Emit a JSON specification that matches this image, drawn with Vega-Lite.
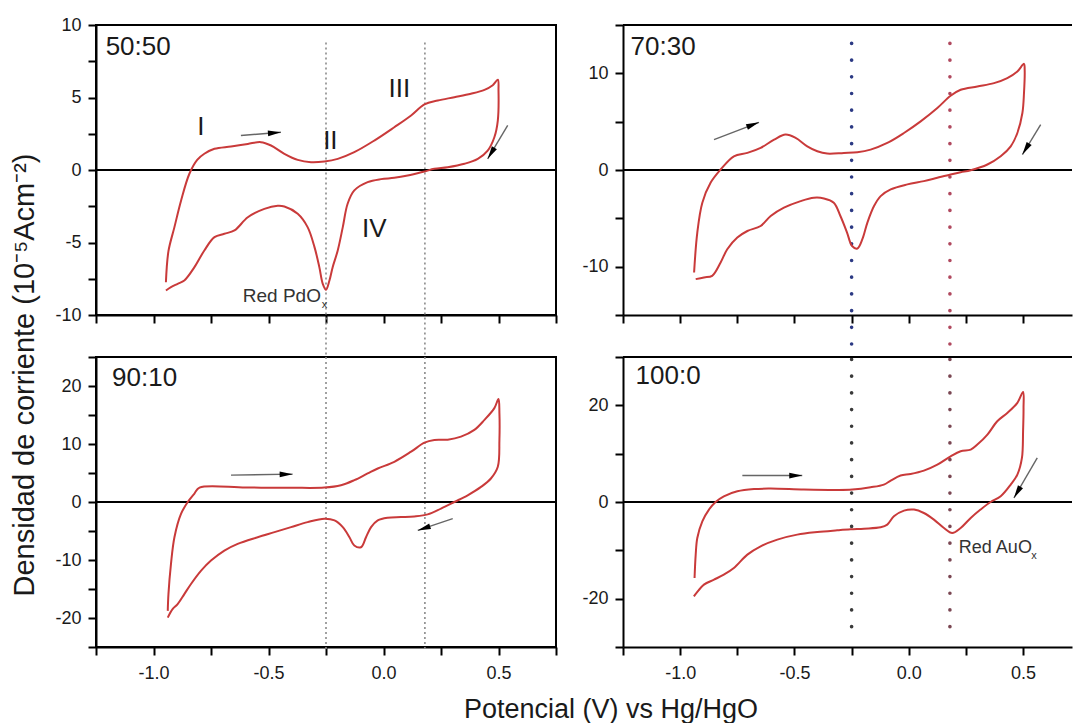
{
 "$schema": "https://vega.github.io/schema/vega-lite/v6.json",
 "padding": {"left": 10, "top": 15, "right": 0, "bottom": 0},
 "background": "white",
 "config": {
  "font": "Liberation Sans",
  "view": {"stroke": "black", "strokeWidth": 2},
  "axis": {"grid": false, "domainColor": "black", "domainWidth": 2, "tickColor": "black", "tickWidth": 2, "tickSize": 8, "labelFont": "Liberation Sans", "labelFontSize": 18, "labelColor": "#1a1a1a", "labelPadding": 7, "labelOverlap": false, "labelFlush": false},
  "axisX": {"labelPadding": 9},
  "text": {"font": "Liberation Sans"}
 },
 "title": {"text": "Potencial (V) vs Hg/HgO", "orient": "bottom", "anchor": "middle", "fontSize": 27, "font": "Liberation Sans", "fontWeight": "normal", "color": "#1a1a1a", "offset": 14, "dx": 69},
 "datasets": {
  "cv": [
   {"p":"a","o":1,"v":-0.946,"i":-7.74},{"p":"a","o":2,"v":-0.935,"i":-5.6},{"p":"a","o":3,"v":-0.909,"i":-3.94},{"p":"a","o":4,"v":-0.88,"i":-2.1},{"p":"a","o":5,"v":-0.844,"i":-0.26},{"p":"a","o":6,"v":-0.81,"i":0.7},{"p":"a","o":7,"v":-0.779,"i":1.12},{"p":"a","o":8,"v":-0.735,"i":1.46},{"p":"a","o":9,"v":-0.663,"i":1.62},{"p":"a","o":10,"v":-0.59,"i":1.8},{"p":"a","o":11,"v":-0.533,"i":1.92},{"p":"a","o":12,"v":-0.489,"i":1.69},{"p":"a","o":13,"v":-0.431,"i":1.12},{"p":"a","o":14,"v":-0.373,"i":0.7},{"p":"a","o":15,"v":-0.315,"i":0.54},{"p":"a","o":16,"v":-0.257,"i":0.59},{"p":"a","o":17,"v":-0.199,"i":0.77},{"p":"a","o":18,"v":-0.127,"i":1.23},{"p":"a","o":19,"v":-0.04,"i":2.03},{"p":"a","o":20,"v":0.047,"i":2.95},{"p":"a","o":21,"v":0.12,"i":3.76},{"p":"a","o":22,"v":0.178,"i":4.52},{"p":"a","o":23,"v":0.236,"i":4.79},{"p":"a","o":24,"v":0.308,"i":5.02},{"p":"a","o":25,"v":0.38,"i":5.26},{"p":"a","o":26,"v":0.439,"i":5.53},{"p":"a","o":27,"v":0.475,"i":5.85},{"p":"a","o":28,"v":0.497,"i":6.22},
   {"p":"a","o":29,"v":0.5,"i":5.48},{"p":"a","o":30,"v":0.497,"i":3.41},{"p":"a","o":31,"v":0.482,"i":2.26},{"p":"a","o":32,"v":0.453,"i":1.34},{"p":"a","o":33,"v":0.41,"i":0.77},{"p":"a","o":34,"v":0.352,"i":0.43},{"p":"a","o":35,"v":0.279,"i":0.19},{"p":"a","o":36,"v":0.221,"i":0.08},{"p":"a","o":37,"v":0.178,"i":-0.1},{"p":"a","o":38,"v":0.105,"i":-0.38},{"p":"a","o":39,"v":0.047,"i":-0.54},{"p":"a","o":40,"v":-0.011,"i":-0.63},{"p":"a","o":41,"v":-0.069,"i":-0.84},{"p":"a","o":42,"v":-0.127,"i":-1.41},{"p":"a","o":43,"v":-0.156,"i":-2.33},{"p":"a","o":44,"v":-0.177,"i":-3.94},{"p":"a","o":45,"v":-0.199,"i":-5.55},{"p":"a","o":46,"v":-0.221,"i":-6.7},{"p":"a","o":47,"v":-0.235,"i":-7.62},{"p":"a","o":48,"v":-0.25,"i":-8.26},{"p":"a","o":49,"v":-0.264,"i":-7.85},{"p":"a","o":50,"v":-0.279,"i":-6.7},{"p":"a","o":51,"v":-0.3,"i":-5.32},{"p":"a","o":52,"v":-0.33,"i":-3.94},{"p":"a","o":53,"v":-0.373,"i":-3.02},{"p":"a","o":54,"v":-0.431,"i":-2.52},{"p":"a","o":55,"v":-0.46,"i":-2.47},{"p":"a","o":56,"v":-0.518,"i":-2.68},{"p":"a","o":57,"v":-0.59,"i":-3.26},{"p":"a","o":58,"v":-0.648,"i":-4.17},{"p":"a","o":59,"v":-0.692,"i":-4.4},{"p":"a","o":60,"v":-0.735,"i":-4.63},{"p":"a","o":61,"v":-0.779,"i":-5.55},{"p":"a","o":62,"v":-0.822,"i":-6.7},{"p":"a","o":63,"v":-0.866,"i":-7.62},{"p":"a","o":64,"v":-0.895,"i":-7.85},{"p":"a","o":65,"v":-0.924,"i":-8.08},{"p":"a","o":66,"v":-0.946,"i":-8.31},
   {"p":"b","o":1,"v":-0.939,"i":-10.6},{"p":"b","o":2,"v":-0.925,"i":-6.47},{"p":"b","o":3,"v":-0.903,"i":-3.38},{"p":"b","o":4,"v":-0.867,"i":-1.32},{"p":"b","o":5,"v":-0.823,"i":0.05},{"p":"b","o":6,"v":-0.765,"i":1.42},{"p":"b","o":7,"v":-0.706,"i":1.77},{"p":"b","o":8,"v":-0.648,"i":2.29},{"p":"b","o":9,"v":-0.589,"i":3.14},{"p":"b","o":10,"v":-0.539,"i":3.66},{"p":"b","o":11,"v":-0.495,"i":3.32},{"p":"b","o":12,"v":-0.444,"i":2.45},{"p":"b","o":13,"v":-0.4,"i":1.94},{"p":"b","o":14,"v":-0.357,"i":1.7},{"p":"b","o":15,"v":-0.284,"i":1.77},{"p":"b","o":16,"v":-0.225,"i":1.84},{"p":"b","o":17,"v":-0.167,"i":2.11},{"p":"b","o":18,"v":-0.094,"i":2.8},{"p":"b","o":19,"v":-0.021,"i":3.83},{"p":"b","o":20,"v":0.052,"i":5.03},{"p":"b","o":21,"v":0.125,"i":6.41},{"p":"b","o":22,"v":0.183,"i":7.68},{"p":"b","o":23,"v":0.227,"i":8.3},{"p":"b","o":24,"v":0.3,"i":8.64},{"p":"b","o":25,"v":0.373,"i":8.99},{"p":"b","o":26,"v":0.431,"i":9.51},{"p":"b","o":27,"v":0.475,"i":10.19},{"p":"b","o":28,"v":0.504,"i":10.98},
   {"p":"b","o":29,"v":0.507,"i":10.36},{"p":"b","o":30,"v":0.504,"i":7.96},{"p":"b","o":31,"v":0.497,"i":5.9},{"p":"b","o":32,"v":0.475,"i":3.83},{"p":"b","o":33,"v":0.446,"i":2.45},{"p":"b","o":34,"v":0.402,"i":1.42},{"p":"b","o":35,"v":0.344,"i":0.57},{"p":"b","o":36,"v":0.271,"i":-0.02},{"p":"b","o":37,"v":0.227,"i":-0.23},{"p":"b","o":38,"v":0.183,"i":-0.46},{"p":"b","o":39,"v":0.125,"i":-0.8},{"p":"b","o":40,"v":0.066,"i":-1.15},{"p":"b","o":41,"v":-0.006,"i":-1.49},{"p":"b","o":42,"v":-0.079,"i":-2.01},{"p":"b","o":43,"v":-0.123,"i":-2.7},{"p":"b","o":44,"v":-0.152,"i":-3.73},{"p":"b","o":45,"v":-0.181,"i":-5.44},{"p":"b","o":46,"v":-0.203,"i":-7.16},{"p":"b","o":47,"v":-0.225,"i":-8.12},{"p":"b","o":48,"v":-0.248,"i":-7.86},{"p":"b","o":49,"v":-0.27,"i":-6.47},{"p":"b","o":50,"v":-0.299,"i":-4.76},{"p":"b","o":51,"v":-0.328,"i":-3.38},{"p":"b","o":52,"v":-0.371,"i":-2.94},{"p":"b","o":53,"v":-0.415,"i":-2.87},{"p":"b","o":54,"v":-0.473,"i":-3.22},{"p":"b","o":55,"v":-0.546,"i":-3.9},{"p":"b","o":56,"v":-0.604,"i":-4.76},{"p":"b","o":57,"v":-0.648,"i":-5.79},{"p":"b","o":58,"v":-0.706,"i":-6.31},{"p":"b","o":59,"v":-0.75,"i":-6.99},{"p":"b","o":60,"v":-0.794,"i":-8.2},{"p":"b","o":61,"v":-0.823,"i":-9.57},{"p":"b","o":62,"v":-0.86,"i":-10.95},{"p":"b","o":63,"v":-0.896,"i":-11.11},{"p":"b","o":64,"v":-0.932,"i":-11.29},
   {"p":"c","o":1,"v":-0.938,"i":-18.77},{"p":"c","o":2,"v":-0.935,"i":-15.88},{"p":"c","o":3,"v":-0.924,"i":-10.68},{"p":"c","o":4,"v":-0.909,"i":-6.07},{"p":"c","o":5,"v":-0.88,"i":-2.01},{"p":"c","o":6,"v":-0.851,"i":0},{"p":"c","o":7,"v":-0.822,"i":1.46},{"p":"c","o":8,"v":-0.8,"i":2.49},{"p":"c","o":9,"v":-0.6,"i":2.49},{"p":"c","o":10,"v":-0.4,"i":2.45},{"p":"c","o":11,"v":-0.257,"i":2.49},{"p":"c","o":12,"v":-0.185,"i":2.89},{"p":"c","o":13,"v":-0.127,"i":3.76},{"p":"c","o":14,"v":-0.069,"i":4.92},{"p":"c","o":15,"v":-0.025,"i":5.78},{"p":"c","o":16,"v":0.047,"i":6.93},{"p":"c","o":17,"v":0.12,"i":8.67},{"p":"c","o":18,"v":0.178,"i":10.23},{"p":"c","o":19,"v":0.221,"i":10.69},{"p":"c","o":20,"v":0.279,"i":10.75},{"p":"c","o":21,"v":0.337,"i":11.27},{"p":"c","o":22,"v":0.395,"i":12.43},{"p":"c","o":23,"v":0.439,"i":14.16},{"p":"c","o":24,"v":0.482,"i":16.19},{"p":"c","o":25,"v":0.5,"i":17.75},
   {"p":"c","o":26,"v":0.504,"i":15.32},{"p":"c","o":27,"v":0.504,"i":10.69},{"p":"c","o":28,"v":0.497,"i":6.07},{"p":"c","o":29,"v":0.467,"i":4.05},{"p":"c","o":30,"v":0.424,"i":2.6},{"p":"c","o":31,"v":0.366,"i":1.16},{"p":"c","o":32,"v":0.308,"i":0},{"p":"c","o":33,"v":0.25,"i":-1.14},{"p":"c","o":34,"v":0.192,"i":-2.13},{"p":"c","o":35,"v":0.134,"i":-2.48},{"p":"c","o":36,"v":0.076,"i":-2.6},{"p":"c","o":37,"v":0.018,"i":-2.7},{"p":"c","o":38,"v":-0.025,"i":-3.17},{"p":"c","o":39,"v":-0.054,"i":-4.33},{"p":"c","o":40,"v":-0.076,"i":-6.07},{"p":"c","o":41,"v":-0.098,"i":-7.8},{"p":"c","o":42,"v":-0.127,"i":-7.5},{"p":"c","o":43,"v":-0.148,"i":-6.07},{"p":"c","o":44,"v":-0.177,"i":-4.33},{"p":"c","o":45,"v":-0.213,"i":-3.17},{"p":"c","o":46,"v":-0.257,"i":-2.88},{"p":"c","o":47,"v":-0.33,"i":-3.47},{"p":"c","o":48,"v":-0.402,"i":-4.33},{"p":"c","o":49,"v":-0.474,"i":-5.2},{"p":"c","o":50,"v":-0.547,"i":-6.07},{"p":"c","o":51,"v":-0.634,"i":-7.21},{"p":"c","o":52,"v":-0.692,"i":-8.37},{"p":"c","o":53,"v":-0.75,"i":-10.1},{"p":"c","o":54,"v":-0.793,"i":-11.84},{"p":"c","o":55,"v":-0.837,"i":-14.14},{"p":"c","o":56,"v":-0.866,"i":-15.88},{"p":"c","o":57,"v":-0.895,"i":-17.61},{"p":"c","o":58,"v":-0.917,"i":-18.47},{"p":"c","o":59,"v":-0.938,"i":-19.93},
   {"p":"d","o":1,"v":-0.937,"i":-15.73},{"p":"d","o":2,"v":-0.932,"i":-10.89},{"p":"d","o":3,"v":-0.925,"i":-7.45},{"p":"d","o":4,"v":-0.903,"i":-4.0},{"p":"d","o":5,"v":-0.874,"i":-1.57},{"p":"d","o":6,"v":-0.845,"i":0},{"p":"d","o":7,"v":-0.809,"i":1.18},{"p":"d","o":8,"v":-0.75,"i":2.22},{"p":"d","o":9,"v":-0.677,"i":2.69},{"p":"d","o":10,"v":-0.604,"i":2.77},{"p":"d","o":11,"v":-0.459,"i":2.57},{"p":"d","o":12,"v":-0.313,"i":2.48},{"p":"d","o":13,"v":-0.247,"i":2.57},{"p":"d","o":14,"v":-0.167,"i":3.04},{"p":"d","o":15,"v":-0.109,"i":3.6},{"p":"d","o":16,"v":-0.079,"i":4.43},{"p":"d","o":17,"v":-0.036,"i":5.47},{"p":"d","o":18,"v":0.008,"i":5.8},{"p":"d","o":19,"v":0.066,"i":6.5},{"p":"d","o":20,"v":0.125,"i":7.74},{"p":"d","o":21,"v":0.183,"i":9.46},{"p":"d","o":22,"v":0.227,"i":10.5},{"p":"d","o":23,"v":0.271,"i":10.85},{"p":"d","o":24,"v":0.3,"i":11.88},{"p":"d","o":25,"v":0.344,"i":13.95},{"p":"d","o":26,"v":0.387,"i":16.71},{"p":"d","o":27,"v":0.431,"i":18.43},{"p":"d","o":28,"v":0.475,"i":20.5},{"p":"d","o":29,"v":0.5,"i":22.77},
   {"p":"d","o":30,"v":0.502,"i":19.46},{"p":"d","o":31,"v":0.5,"i":14.64},{"p":"d","o":32,"v":0.495,"i":9.11},{"p":"d","o":33,"v":0.475,"i":5.67},{"p":"d","o":34,"v":0.446,"i":3.6},{"p":"d","o":35,"v":0.402,"i":1.18},{"p":"d","o":36,"v":0.358,"i":0},{"p":"d","o":37,"v":0.314,"i":-1.57},{"p":"d","o":38,"v":0.271,"i":-3.31},{"p":"d","o":39,"v":0.227,"i":-5.38},{"p":"d","o":40,"v":0.19,"i":-6.42},{"p":"d","o":41,"v":0.154,"i":-5.38},{"p":"d","o":42,"v":0.11,"i":-3.64},{"p":"d","o":43,"v":0.066,"i":-2.28},{"p":"d","o":44,"v":0.023,"i":-1.57},{"p":"d","o":45,"v":-0.021,"i":-1.78},{"p":"d","o":46,"v":-0.065,"i":-2.96},{"p":"d","o":47,"v":-0.094,"i":-4.68},{"p":"d","o":48,"v":-0.123,"i":-5.24},{"p":"d","o":49,"v":-0.196,"i":-5.51},{"p":"d","o":50,"v":-0.254,"i":-5.65},{"p":"d","o":51,"v":-0.313,"i":-5.86},{"p":"d","o":52,"v":-0.4,"i":-6.21},{"p":"d","o":53,"v":-0.488,"i":-6.75},{"p":"d","o":54,"v":-0.575,"i":-7.78},{"p":"d","o":55,"v":-0.648,"i":-9.17},{"p":"d","o":56,"v":-0.706,"i":-10.89},{"p":"d","o":57,"v":-0.765,"i":-13.66},{"p":"d","o":58,"v":-0.809,"i":-15.03},{"p":"d","o":59,"v":-0.852,"i":-16.07},{"p":"d","o":60,"v":-0.896,"i":-17.1},{"p":"d","o":61,"v":-0.94,"i":-19.52}
  ],
  "rl": [
   {"p":"a","k":"s","v":-1.25,"v2":0.75,"i":0,"i2":0},
   {"p":"a","k":"g","v":-0.25,"v2":-0.25,"i":8.8,"i2":-12.9},
   {"p":"a","k":"g","v":0.18,"v2":0.18,"i":8.8,"i2":-12.9},
   {"p":"c","k":"s","v":-1.25,"v2":0.75,"i":0,"i2":0},
   {"p":"c","k":"g","v":-0.25,"v2":-0.25,"i":25,"i2":-25.5},
   {"p":"c","k":"g","v":0.18,"v2":0.18,"i":25,"i2":-25.5},
   {"p":"b","k":"s","v":-1.25,"v2":0.714,"i":0,"i2":0},
   {"p":"b","k":"s","v":-1.25,"v2":0.714,"i":15,"i2":15},
   {"p":"b","k":"n","v":-0.25,"v2":-0.25,"i":13.1,"i2":-18.7},
   {"p":"b","k":"r","v":0.18,"v2":0.18,"i":13.1,"i2":-18.7},
   {"p":"d","k":"s","v":-1.25,"v2":0.714,"i":0,"i2":0},
   {"p":"d","k":"s","v":-1.25,"v2":0.714,"i":30,"i2":30},
   {"p":"d","k":"k","v":-0.25,"v2":-0.25,"i":29.5,"i2":-28.5},
   {"p":"d","k":"r2","v":0.18,"v2":0.18,"i":29.5,"i2":-28.5}
  ],
  "ar": [
   {"id":"a1","p":"a","v":-0.446,"i":2.6,"v2":-0.62,"i2":2.38},
   {"id":"a2","p":"a","v":0.453,"i":0.77,"v2":0.54,"i2":3.07},
   {"id":"b1","p":"b","v":-0.655,"i":4.93,"v2":-0.852,"i2":3.14},
   {"id":"b2","p":"b","v":0.497,"i":1.6,"v2":0.577,"i2":4.69},
   {"id":"c1","p":"c","v":-0.395,"i":4.8,"v2":-0.663,"i2":4.63},
   {"id":"c2","p":"c","v":0.149,"i":-4.9,"v2":0.301,"i2":-2.88},
   {"id":"d1","p":"d","v":-0.466,"i":5.47,"v2":-0.728,"i2":5.47},
   {"id":"d2","p":"d","v":0.46,"i":0.83,"v2":0.562,"i2":9.11}
  ],
  "tx": [
   {"id":"a0","v":-1.208,"i":8.45,"t":"50:50"},
   {"id":"aI","v":-0.794,"i":2.95,"t":"I"},
   {"id":"aII","v":-0.231,"i":2.03,"t":"II"},
   {"id":"aIII","v":0.069,"i":5.6,"t":"III"},
   {"id":"aIV","v":-0.04,"i":-4.06,"t":"IV"},
   {"id":"aR","v":-0.272,"i":-8.66,"t":"Red PdO"},
   {"id":"ax","v":-0.257,"i":-9.34,"t":"x"},
   {"id":"b0","v":-1.217,"i":12.7,"t":"70:30"},
   {"id":"c0","v":-1.18,"i":21.4,"t":"90:10"},
   {"id":"d0","v":-1.195,"i":26.0,"t":"100:0"},
   {"id":"dR","v":0.219,"i":-9.52,"t":"Red AuO"},
   {"id":"dx","v":0.548,"i":-11.2,"t":"x"}
  ]
 },
 "hconcat": [
  {
   "title": {"text": "Densidad de corriente (10⁻⁵Acm⁻²)", "orient": "left", "anchor": "middle", "fontSize": 29, "font": "Liberation Sans", "fontWeight": "normal", "color": "#1a1a1a", "offset": 14, "dx": -26},
   "spacing": 42,
   "bounds": "flush",
   "vconcat": [
    {
     "width": 460, "height": 290,
     "encoding": {
      "x": {"field": "v", "type": "quantitative", "scale": {"domain": [-1.25, 0.75], "nice": false, "zero": false}, "axis": {"values": [-1.25,-1,-0.75,-0.5,-0.25,0,0.25,0.5,0.75], "labels": false, "title": null}},
      "y": {"field": "i", "type": "quantitative", "scale": {"domain": [-10, 10], "nice": false, "zero": false}, "axis": {"values": [-10,-7.5,-5,-2.5,0,2.5,5,7.5,10], "labelExpr": "datum.value % 5 === 0 ? '' + datum.value : ''", "title": null}}
     },
     "layer": [
      {"data": {"name": "rl"}, "transform": [{"filter": "datum.p === 'a' && datum.k === 'g'"}], "mark": {"type": "rule", "color": "#8a8a8a", "strokeWidth": 1.6, "strokeDash": [2, 3]}, "encoding": {"x2": {"field": "v2"}, "y2": {"field": "i2"}}},
      {"data": {"name": "rl"}, "transform": [{"filter": "datum.p === 'a' && datum.k === 's'"}], "mark": {"type": "rule", "color": "black", "strokeWidth": 2}, "encoding": {"x2": {"field": "v2"}, "y2": {"field": "i2"}}},
      {"data": {"name": "cv"}, "transform": [{"filter": "datum.p === 'a'"}], "mark": {"type": "line", "color": "#c93a3a", "strokeWidth": 2, "interpolate": "catmull-rom"}, "encoding": {"order": {"field": "o", "type": "quantitative"}}},
      {"data": {"name": "ar"}, "transform": [{"filter": "datum.p === 'a'"}], "mark": {"type": "rule", "color": "#666666", "strokeWidth": 1.4}, "encoding": {"x2": {"field": "v2"}, "y2": {"field": "i2"}}},
      {"data": {"name": "ar"}, "transform": [{"filter": "datum.id === 'a1'"}], "mark": {"type": "point", "shape": "M0,0L-2,-0.45L-2,0.45Z", "filled": true, "color": "black", "opacity": 1, "size": 169, "angle": -4.7}},
      {"data": {"name": "ar"}, "transform": [{"filter": "datum.id === 'a2'"}], "mark": {"type": "point", "shape": "M0,0L-2,-0.45L-2,0.45Z", "filled": true, "color": "black", "opacity": 1, "size": 169, "angle": 121}},
      {"data": {"name": "tx"}, "transform": [{"filter": {"field": "id", "oneOf": ["a0"]}}], "mark": {"type": "text", "align": "left", "baseline": "middle", "fontSize": 26, "color": "#1a1a1a"}, "encoding": {"text": {"field": "t"}}},
      {"data": {"name": "tx"}, "transform": [{"filter": {"field": "id", "oneOf": ["aI", "aII", "aIII", "aIV"]}}], "mark": {"type": "text", "align": "center", "baseline": "middle", "fontSize": 26, "color": "#1a1a1a"}, "encoding": {"text": {"field": "t"}}},
      {"data": {"name": "tx"}, "transform": [{"filter": {"field": "id", "oneOf": ["aR"]}}], "mark": {"type": "text", "align": "right", "baseline": "middle", "fontSize": 19, "color": "#333333"}, "encoding": {"text": {"field": "t"}}},
      {"data": {"name": "tx"}, "transform": [{"filter": {"field": "id", "oneOf": ["ax"]}}], "mark": {"type": "text", "align": "center", "baseline": "middle", "fontSize": 11, "color": "#333333"}, "encoding": {"text": {"field": "t"}}}
     ]
    },
    {
     "width": 460, "height": 290,
     "encoding": {
      "x": {"field": "v", "type": "quantitative", "scale": {"domain": [-1.25, 0.75], "nice": false, "zero": false}, "axis": {"values": [-1.25,-1,-0.75,-0.5,-0.25,0,0.25,0.5,0.75], "labelExpr": "datum.value === -1 ? '-1.0' : datum.value === -0.5 ? '-0.5' : datum.value === 0 ? '0.0' : datum.value === 0.5 ? '0.5' : ''", "title": null}},
      "y": {"field": "i", "type": "quantitative", "scale": {"domain": [-25, 25], "nice": false, "zero": false}, "axis": {"values": [-25,-20,-15,-10,-5,0,5,10,15,20,25], "labelExpr": "datum.value % 10 === 0 ? '' + datum.value : ''", "title": null}}
     },
     "layer": [
      {"data": {"name": "rl"}, "transform": [{"filter": "datum.p === 'c' && datum.k === 'g'"}], "mark": {"type": "rule", "color": "#8a8a8a", "strokeWidth": 1.6, "strokeDash": [2, 3]}, "encoding": {"x2": {"field": "v2"}, "y2": {"field": "i2"}}},
      {"data": {"name": "rl"}, "transform": [{"filter": "datum.p === 'c' && datum.k === 's'"}], "mark": {"type": "rule", "color": "black", "strokeWidth": 2}, "encoding": {"x2": {"field": "v2"}, "y2": {"field": "i2"}}},
      {"data": {"name": "cv"}, "transform": [{"filter": "datum.p === 'c'"}], "mark": {"type": "line", "color": "#c93a3a", "strokeWidth": 2, "interpolate": "catmull-rom"}, "encoding": {"order": {"field": "o", "type": "quantitative"}}},
      {"data": {"name": "ar"}, "transform": [{"filter": "datum.p === 'c'"}], "mark": {"type": "rule", "color": "#666666", "strokeWidth": 1.4}, "encoding": {"x2": {"field": "v2"}, "y2": {"field": "i2"}}},
      {"data": {"name": "ar"}, "transform": [{"filter": "datum.id === 'c1'"}], "mark": {"type": "point", "shape": "M0,0L-2,-0.45L-2,0.45Z", "filled": true, "color": "black", "opacity": 1, "size": 169, "angle": -1}},
      {"data": {"name": "ar"}, "transform": [{"filter": "datum.id === 'c2'"}], "mark": {"type": "point", "shape": "M0,0L-2,-0.45L-2,0.45Z", "filled": true, "color": "black", "opacity": 1, "size": 169, "angle": 161.5}},
      {"data": {"name": "tx"}, "transform": [{"filter": {"field": "id", "oneOf": ["c0"]}}], "mark": {"type": "text", "align": "left", "baseline": "middle", "fontSize": 26, "color": "#1a1a1a"}, "encoding": {"text": {"field": "t"}}}
     ]
    }
   ]
  },
  {
   "spacing": 42,
   "bounds": "flush",
   "vconcat": [
    {
     "width": 449, "height": 290,
     "view": {"stroke": null},
     "encoding": {
      "x": {"field": "v", "type": "quantitative", "scale": {"domain": [-1.25, 0.714], "nice": false, "zero": false}, "axis": {"values": [-1.25,-1,-0.75,-0.5,-0.25,0,0.25,0.5], "labels": false, "title": null}},
      "y": {"field": "i", "type": "quantitative", "scale": {"domain": [-15, 15], "nice": false, "zero": false}, "axis": {"values": [-15,-10,-5,0,5,10,15], "labelExpr": "datum.value % 10 === 0 ? '' + datum.value : ' '", "title": null}}
     },
     "layer": [
      {"data": {"name": "rl"}, "transform": [{"filter": "datum.p === 'b' && datum.k === 'n'"}], "mark": {"type": "rule", "color": "#2c3a84", "strokeWidth": 3.6, "strokeCap": "round", "strokeDash": [0.1, 16.6]}, "encoding": {"x2": {"field": "v2"}, "y2": {"field": "i2"}}},
      {"data": {"name": "rl"}, "transform": [{"filter": "datum.p === 'b' && datum.k === 'r'"}], "mark": {"type": "rule", "color": "#b0485e", "strokeWidth": 3.6, "strokeCap": "round", "strokeDash": [0.1, 16.6]}, "encoding": {"x2": {"field": "v2"}, "y2": {"field": "i2"}}},
      {"data": {"name": "rl"}, "transform": [{"filter": "datum.p === 'b' && datum.k === 's'"}], "mark": {"type": "rule", "color": "black", "strokeWidth": 2}, "encoding": {"x2": {"field": "v2"}, "y2": {"field": "i2"}}},
      {"data": {"name": "cv"}, "transform": [{"filter": "datum.p === 'b'"}], "mark": {"type": "line", "color": "#c93a3a", "strokeWidth": 2, "interpolate": "catmull-rom"}, "encoding": {"order": {"field": "o", "type": "quantitative"}}},
      {"data": {"name": "ar"}, "transform": [{"filter": "datum.p === 'b'"}], "mark": {"type": "rule", "color": "#666666", "strokeWidth": 1.4}, "encoding": {"x2": {"field": "v2"}, "y2": {"field": "i2"}}},
      {"data": {"name": "ar"}, "transform": [{"filter": "datum.id === 'b1'"}], "mark": {"type": "point", "shape": "M0,0L-2,-0.45L-2,0.45Z", "filled": true, "color": "black", "opacity": 1, "size": 169, "angle": -21}},
      {"data": {"name": "ar"}, "transform": [{"filter": "datum.id === 'b2'"}], "mark": {"type": "point", "shape": "M0,0L-2,-0.45L-2,0.45Z", "filled": true, "color": "black", "opacity": 1, "size": 169, "angle": 121.4}},
      {"data": {"name": "tx"}, "transform": [{"filter": {"field": "id", "oneOf": ["b0"]}}], "mark": {"type": "text", "align": "left", "baseline": "middle", "fontSize": 26, "color": "#1a1a1a"}, "encoding": {"text": {"field": "t"}}}
     ]
    },
    {
     "width": 449, "height": 290,
     "view": {"stroke": null},
     "encoding": {
      "x": {"field": "v", "type": "quantitative", "scale": {"domain": [-1.25, 0.714], "nice": false, "zero": false}, "axis": {"values": [-1.25,-1,-0.75,-0.5,-0.25,0,0.25,0.5], "labelExpr": "datum.value === -1 ? '-1.0' : datum.value === -0.5 ? '-0.5' : datum.value === 0 ? '0.0' : datum.value === 0.5 ? '0.5' : ''", "title": null}},
      "y": {"field": "i", "type": "quantitative", "scale": {"domain": [-30, 30], "nice": false, "zero": false}, "axis": {"values": [-30,-20,-10,0,10,20,30], "labelExpr": "datum.value % 20 === 0 ? '' + datum.value : ' '", "title": null}}
     },
     "layer": [
      {"data": {"name": "rl"}, "transform": [{"filter": "datum.p === 'd' && datum.k === 'k'"}], "mark": {"type": "rule", "color": "#3a3a3a", "strokeWidth": 3.6, "strokeCap": "round", "strokeDash": [0.1, 16.6]}, "encoding": {"x2": {"field": "v2"}, "y2": {"field": "i2"}}},
      {"data": {"name": "rl"}, "transform": [{"filter": "datum.p === 'd' && datum.k === 'r2'"}], "mark": {"type": "rule", "color": "#7a4652", "strokeWidth": 3.6, "strokeCap": "round", "strokeDash": [0.1, 16.6]}, "encoding": {"x2": {"field": "v2"}, "y2": {"field": "i2"}}},
      {"data": {"name": "rl"}, "transform": [{"filter": "datum.p === 'd' && datum.k === 's'"}], "mark": {"type": "rule", "color": "black", "strokeWidth": 2}, "encoding": {"x2": {"field": "v2"}, "y2": {"field": "i2"}}},
      {"data": {"name": "cv"}, "transform": [{"filter": "datum.p === 'd'"}], "mark": {"type": "line", "color": "#c93a3a", "strokeWidth": 2, "interpolate": "catmull-rom"}, "encoding": {"order": {"field": "o", "type": "quantitative"}}},
      {"data": {"name": "ar"}, "transform": [{"filter": "datum.p === 'd'"}], "mark": {"type": "rule", "color": "#666666", "strokeWidth": 1.4}, "encoding": {"x2": {"field": "v2"}, "y2": {"field": "i2"}}},
      {"data": {"name": "ar"}, "transform": [{"filter": "datum.id === 'd1'"}], "mark": {"type": "point", "shape": "M0,0L-2,-0.45L-2,0.45Z", "filled": true, "color": "black", "opacity": 1, "size": 169, "angle": 0}},
      {"data": {"name": "ar"}, "transform": [{"filter": "datum.id === 'd2'"}], "mark": {"type": "point", "shape": "M0,0L-2,-0.45L-2,0.45Z", "filled": true, "color": "black", "opacity": 1, "size": 169, "angle": 120.3}},
      {"data": {"name": "tx"}, "transform": [{"filter": {"field": "id", "oneOf": ["d0"]}}], "mark": {"type": "text", "align": "left", "baseline": "middle", "fontSize": 26, "color": "#1a1a1a"}, "encoding": {"text": {"field": "t"}}},
      {"data": {"name": "tx"}, "transform": [{"filter": {"field": "id", "oneOf": ["dR"]}}], "mark": {"type": "text", "align": "left", "baseline": "middle", "fontSize": 18, "color": "#333333"}, "encoding": {"text": {"field": "t"}}},
      {"data": {"name": "tx"}, "transform": [{"filter": {"field": "id", "oneOf": ["dx"]}}], "mark": {"type": "text", "align": "center", "baseline": "middle", "fontSize": 11, "color": "#333333"}, "encoding": {"text": {"field": "t"}}}
     ]
    }
   ]
  }
 ],
 "spacing": 23
}
